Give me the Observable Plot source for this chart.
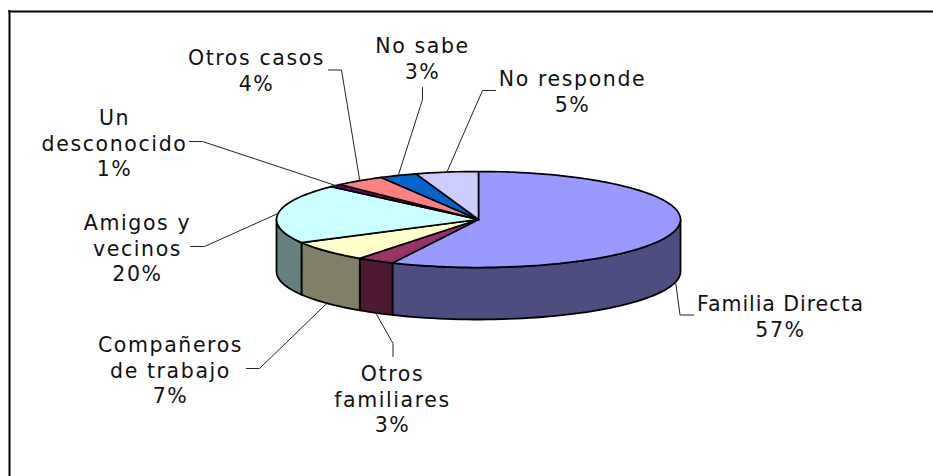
<!DOCTYPE html>
<html><head><meta charset="utf-8">
<script src="https://cdn.jsdelivr.net/npm/d3@7"></script>
<script src="https://cdn.jsdelivr.net/npm/@observablehq/plot@0.6"></script>
<style>html,body{margin:0;padding:0;background:#fff}svg{display:block}</style>
</head><body><div id="chart"></div>
<script>
const categories = ["Familia Directa","Otros familiares","Compañeros de trabajo","Amigos y vecinos","Un desconocido","Otros casos","No sabe","No responde"];
const values = [57,3,7,20,1,4,3,5];
const topColors = ["#9999FF","#993366","#FFFFCC","#CCFFFF","#660066","#FF8080","#0066CC","#CCCCFF"];
const wallColors = ["#4D4D80","#4D1933","#808066","#668080","#330033","#804040","#003366","#666680"];
const labelLines = [["Familia Directa","57%"],["Otros","familiares","3%"],["Compañeros","de trabajo","7%"],["Amigos y","vecinos","20%"],["Un","desconocido","1%"],["Otros casos","4%"],["No sabe","3%"],["No responde","5%"]];
const labelX = [780,392,170,137,114,256,422,572];
const labelY = [304,374,345,223,118,58,46,79];
const leaderEnds = [[[693,314.5],[679.5,314.5]],[[392.5,356],[392.5,343]],[[246,368],[259,368]],[[190,246],[204,246]],[[189,141],[202,141]],[[328,69.5],[341,69.5]],[[422,87],[422,99]],[[495,90],[482,90]]];

const W=933,H=476,cx=478,cy=219,rx=202,ry=48,depth=52;
const pt=(deg,dy=0)=>{const a=deg*Math.PI/180;return {x:cx+rx*Math.sin(a),y:cy-ry*Math.cos(a)+dy};};
const arc=(a0,a1,dy=0)=>{const n=Math.max(2,Math.ceil(Math.abs(a1-a0)/2));return d3.range(n+1).map(i=>pt(a0+(a1-a0)*i/n,dy));};
let acc=0;
const slices=values.map((v,i)=>{const a0=acc*3.6;acc+=v;return {i,a0,a1:acc*3.6,mid:(a0+acc*3.6)/2};});
const marks=[];
for(const s of slices){
  const a0=Math.max(s.a0,90),a1=Math.min(s.a1,270);
  if(a1<=a0) continue;
  const poly=[...arc(a0,a1),...arc(a1,a0,depth)];poly.push(poly[0]);
  marks.push(Plot.line(poly,{x:"x",y:"y",fill:wallColors[s.i],stroke:"#000",strokeWidth:1.8,curve:"linear"}));
}
for(const s of slices){
  const poly=[{x:cx,y:cy},...arc(s.a0,s.a1),{x:cx,y:cy}];
  marks.push(Plot.line(poly,{x:"x",y:"y",fill:topColors[s.i],stroke:"#000",strokeWidth:1.7,curve:"linear"}));
}
slices.forEach(s=>{
  const front=s.mid>90&&s.mid<270;
  const p=pt(s.mid,front?depth:0);
  const [end,elbow]=leaderEnds[s.i];
  marks.push(Plot.line([{x:end[0],y:end[1]},{x:elbow[0],y:elbow[1]},p],{x:"x",y:"y",stroke:"#222",strokeWidth:1,curve:"linear"}));
});
const labelRows=labelLines.flatMap((ls,i)=>ls.map((t,j)=>({t,x:labelX[i],y:labelY[i]+j*25.5})));
marks.push(Plot.text(labelRows,{x:"x",y:"y",text:"t",fontSize:20.5,fill:"#111",textAnchor:"middle",lineAnchor:"middle",fontFamily:"'DejaVu Sans'"}));
marks.push(Plot.ruleY([11],{x1:8,x2:W,stroke:"#000",strokeWidth:2}));
marks.push(Plot.ruleX([9],{y1:10,y2:H,stroke:"#000",strokeWidth:2}));
const fig=Plot.plot({width:W,height:H,margin:0,x:{domain:[0,W],range:[0,W],axis:null},y:{domain:[0,H],range:[0,H],axis:null},marks});
document.getElementById("chart").append(fig);
fig.querySelectorAll("text").forEach(t=>{t.style.letterSpacing=t.textContent==="Familia Directa"?"0.95px":"1.6px";});
</script></body></html>
